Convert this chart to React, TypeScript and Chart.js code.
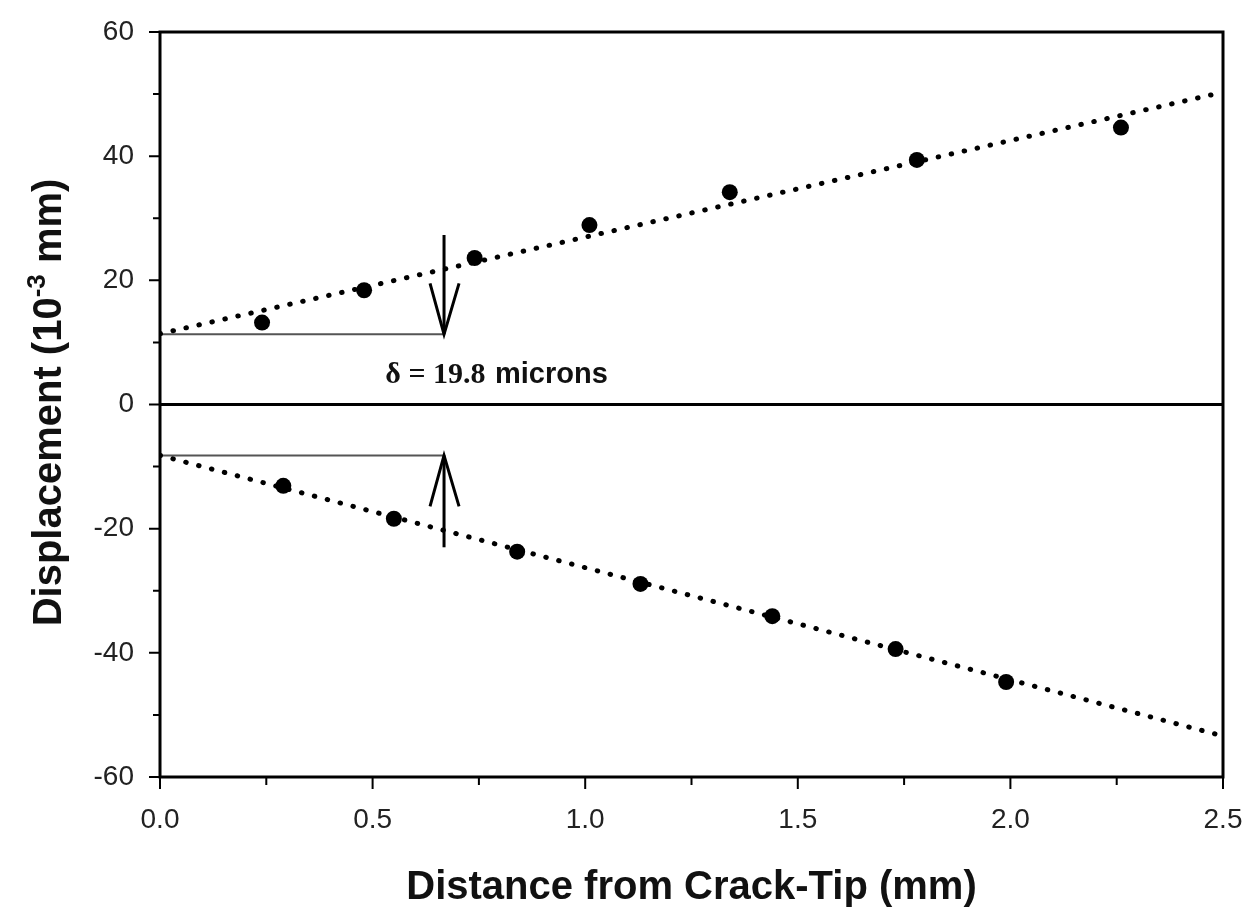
import React, { useEffect, useRef } from "react";
import { Chart, registerables } from "chart.js";

Chart.register(...registerables);

// ---- data ----
const fitX = [0, 2.5];
const upperFit = [11.4, 50.3];
const lowerFit = [-8.2, -53.4];

const upperX = [0.24, 0.48, 0.74, 1.01, 1.34, 1.78, 2.26];
const upperY = [13.2, 18.4, 23.6, 28.9, 34.2, 39.4, 44.6];
const lowerX = [0.29, 0.55, 0.84, 1.13, 1.44, 1.73, 1.99];
const lowerY = [-13.1, -18.4, -23.7, -28.9, -34.1, -39.4, -44.7];

const refX = [0, 0.668];
const upperRef = 11.3;
const lowerRef = -8.2;
const arrowX = 0.668;
const upperArrowTop = 27.3;
const lowerArrowBottom = -23.0;

const xMinorTicks = [0.25, 0.75, 1.25, 1.75, 2.25];
const xMajorTicks = [0, 0.5, 1.0, 1.5, 2.0, 2.5];
const yMajorTicks = [-60, -40, -20, 0, 20, 40, 60];
const yMinorTicks = [-50, -30, -10, 10, 30, 50];

const deltaText = "\u03B4 = 19.8";
const deltaUnit = "microns";
const labelPos = { x: 0.53, y: 3.4 };

const xTitle = "Distance from Crack-Tip (mm)";
const yTitleMain = "Displacement (10";
const yTitleSup = "-3";
const yTitleEnd = " mm)";

const SANS = "'Liberation Sans', Arial, sans-serif";
const SERIF = "'Liberation Serif', 'Times New Roman', serif";

const pts = (xs: number[], ys: number[]) => xs.map((x, i) => ({ x, y: ys[i] }));

const decorPlugin = {
  id: "decor",
  afterDraw(chart: any) {
    const ctx = chart.ctx;
    const xs = chart.scales.x;
    const ys = chart.scales.y;
    const ca = chart.chartArea;
    ctx.save();
    ctx.strokeStyle = "#000";
    ctx.lineCap = "butt";

    // frame
    ctx.lineWidth = 3;
    ctx.strokeRect(ca.left, ca.top, ca.right - ca.left, ca.bottom - ca.top);

    // zero line
    const y0 = ys.getPixelForValue(0);
    ctx.beginPath();
    ctx.moveTo(ca.left, y0);
    ctx.lineTo(ca.right, y0);
    ctx.stroke();

    // ticks
    ctx.lineWidth = 2;
    ctx.beginPath();
    yMajorTicks.forEach((v) => {
      const p = ys.getPixelForValue(v);
      ctx.moveTo(ca.left - 11, p);
      ctx.lineTo(ca.left, p);
    });
    yMinorTicks.forEach((v) => {
      const p = ys.getPixelForValue(v);
      ctx.moveTo(ca.left - 7, p);
      ctx.lineTo(ca.left, p);
    });
    xMajorTicks.forEach((v) => {
      const p = xs.getPixelForValue(v);
      ctx.moveTo(p, ca.bottom);
      ctx.lineTo(p, ca.bottom + 12);
    });
    xMinorTicks.forEach((v) => {
      const p = xs.getPixelForValue(v);
      ctx.moveTo(p, ca.bottom);
      ctx.lineTo(p, ca.bottom + 8);
    });
    ctx.stroke();

    // arrowheads
    ctx.lineWidth = 3;
    const ax = xs.getPixelForValue(arrowX);
    const tipU = ys.getPixelForValue(upperRef);
    const tipL = ys.getPixelForValue(lowerRef);
    ctx.beginPath();
    ctx.moveTo(ax - 14, tipU - 51);
    ctx.lineTo(ax, tipU);
    ctx.lineTo(ax + 15, tipU - 51);
    ctx.moveTo(ax - 14, tipL + 51);
    ctx.lineTo(ax, tipL);
    ctx.lineTo(ax + 15, tipL + 51);
    ctx.stroke();

    // delta label
    ctx.fillStyle = "#111";
    ctx.textBaseline = "alphabetic";
    ctx.textAlign = "left";
    const lx = xs.getPixelForValue(labelPos.x);
    const ly = ys.getPixelForValue(labelPos.y);
    ctx.font = `bold 30px ${SERIF}`;
    ctx.fillText(deltaText, lx, ly);
    const w1 = ctx.measureText(deltaText + " ").width;
    ctx.font = `bold 29px ${SANS}`;
    ctx.fillText(deltaUnit, lx + w1 + 2, ly);

    // x title
    ctx.font = `bold 40px ${SANS}`;
    ctx.textAlign = "center";
    ctx.fillText(xTitle, (ca.left + ca.right) / 2, 899);

    // y title (rotated, with superscript)
    ctx.translate(61, (ca.top + ca.bottom) / 2 - 2);
    ctx.rotate(-Math.PI / 2);
    ctx.textAlign = "left";
    ctx.font = `bold 40px ${SANS}`;
    const wMain = ctx.measureText(yTitleMain).width;
    const wEnd = ctx.measureText(yTitleEnd).width;
    ctx.font = `bold 26px ${SANS}`;
    const wSup = ctx.measureText(yTitleSup).width;
    const total = wMain + wSup + wEnd;
    let cx = -total / 2;
    ctx.font = `bold 40px ${SANS}`;
    ctx.fillText(yTitleMain, cx, 0);
    cx += wMain;
    ctx.font = `bold 26px ${SANS}`;
    ctx.fillText(yTitleSup, cx, -16);
    cx += wSup;
    ctx.font = `bold 40px ${SANS}`;
    ctx.fillText(yTitleEnd, cx, 0);

    ctx.restore();
  },
};

export default function App() {
  const ref = useRef<HTMLCanvasElement | null>(null);

  useEffect(() => {
    if (!ref.current) return;
    const dotted = {
      borderColor: "#000",
      borderWidth: 5,
      borderDash: [0.5, 12.8],
      borderCapStyle: "round" as const,
      pointRadius: 0,
      showLine: true,
      fill: false,
      tension: 0,
    };
    const chart = new Chart(ref.current, {
      type: "scatter",
      data: {
        datasets: [
          {
            label: "upper",
            data: pts(upperX, upperY),
            pointRadius: 8,
            pointBackgroundColor: "#000",
            pointBorderWidth: 0,
            showLine: false,
          },
          {
            label: "lower",
            data: pts(lowerX, lowerY),
            pointRadius: 8,
            pointBackgroundColor: "#000",
            pointBorderWidth: 0,
            showLine: false,
          },
          { label: "upper fit", data: pts(fitX, upperFit), ...dotted },
          { label: "lower fit", data: pts(fitX, lowerFit), ...dotted },
          {
            label: "upper ref",
            data: pts(refX, [upperRef, upperRef]),
            borderColor: "#555",
            borderWidth: 2,
            pointRadius: 0,
            showLine: true,
          },
          {
            label: "lower ref",
            data: pts(refX, [lowerRef, lowerRef]),
            borderColor: "#555",
            borderWidth: 2,
            pointRadius: 0,
            showLine: true,
          },
          {
            label: "upper arrow",
            data: pts([arrowX, arrowX], [upperArrowTop, upperRef]),
            borderColor: "#000",
            borderWidth: 3,
            pointRadius: 0,
            showLine: true,
          },
          {
            label: "lower arrow",
            data: pts([arrowX, arrowX], [lowerArrowBottom, lowerRef]),
            borderColor: "#000",
            borderWidth: 3,
            pointRadius: 0,
            showLine: true,
          },
        ],
      },
      options: {
        responsive: false,
        animation: false,
        events: [],
        layout: { padding: { left: 0, top: 32, right: 28, bottom: 0 } },
        plugins: {
          legend: { display: false },
          tooltip: { enabled: false },
          title: { display: false },
        },
        scales: {
          x: {
            type: "linear",
            min: 0,
            max: 2.5,
            grid: { display: false, drawTicks: false },
            border: { display: false },
            ticks: {
              stepSize: 0.5,
              autoSkip: false,
              maxRotation: 0,
              padding: 26,
              color: "#222",
              font: { family: SANS, size: 28 },
              callback: (v: any) => Number(v).toFixed(1),
            },
            afterFit: (s: any) => {
              s.height = 135;
              s.paddingLeft = 0;
              s.paddingRight = 0;
            },
          },
          y: {
            type: "linear",
            min: -60,
            max: 60,
            grid: { display: false, drawTicks: false },
            border: { display: false },
            ticks: {
              stepSize: 20,
              autoSkip: false,
              padding: 26,
              color: "#222",
              font: { family: SANS, size: 28 },
              callback: (v: any) => String(v),
            },
            afterFit: (s: any) => {
              s.width = 160;
              s.paddingTop = 0;
              s.paddingBottom = 0;
            },
          },
        },
      },
      plugins: [decorPlugin],
    });
    return () => chart.destroy();
  }, []);

  return (
    <div style={{ position: "absolute", left: 0, top: 0, width: 1251, height: 912, background: "#fff" }}>
      <canvas ref={ref} width={1251} height={912} style={{ display: "block" }} />
    </div>
  );
}
